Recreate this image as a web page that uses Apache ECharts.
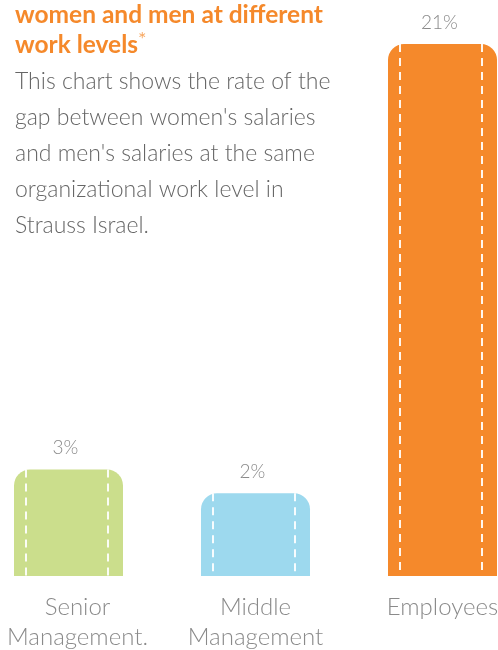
<!DOCTYPE html>
<html>
<head>
<meta charset="utf-8">
<script src="https://cdn.jsdelivr.net/npm/echarts@6/dist/echarts.min.js"></script>
<style>
  html, body { margin: 0; padding: 0; background: #fff; }
  #chart { width: 498px; height: 650px; }
</style>
</head>
<body>
<div id="chart"></div>
<script>
// data
const categories = ["Senior\nManagement.", "Middle\nManagement", "Employees"];
const gapValues = [3, 2, 21];
const barColors = ["#cbde8c", "#9dd9ee", "#f5892b"];

const titleLines = ["women and men at different", "work levels"];
const bodyLines = [
  "This chart shows the rate of the",
  "gap between women's salaries",
  "and men's salaries at the same",
  "organizational work level in",
  "Strauss Israel."
];

// bars in the original start below zero, so the axis runs from a negative floor
const Y_MIN = -1.5;
const Y_MAX = 21;

const chart = echarts.init(document.getElementById("chart"));

const option = {
  animation: false,
  title: {
    left: 15,
    top: 0,
    text: titleLines[0] + "\n" + titleLines[1] + "{star|*}",
    textStyle: {
      fontFamily: "Lato",
      fontWeight: "bold",
      fontSize: 24.5,
      lineHeight: 30,
      color: "#f5892b",
      rich: {
        star: { fontSize: 20, fontWeight: "normal", color: "#f8a862", verticalAlign: "top", lineHeight: 24 }
      }
    },
    subtext: bodyLines.join("\n"),
    subtextStyle: {
      fontFamily: "Lato",
      fontWeight: 300,
      fontSize: 23,
      lineHeight: 36,
      color: "#666666"
    },
    itemGap: 4,
    padding: 0
  },
  grid: {
    left: 68.5,
    right: 55.5,
    top: 44,
    bottom: 74,
    containLabel: false,
    outerBoundsMode: "none"
  },
  xAxis: {
    type: "category",
    data: categories,
    boundaryGap: false,
    axisLine: { show: false },
    axisTick: { show: false },
    axisLabel: {
      interval: 0,
      margin: 16,
      fontFamily: "Lato",
      fontWeight: 300,
      fontSize: 24,
      lineHeight: 30,
      color: "#8a8a8a",
      // the first label sits a little right of its bar in the original
      formatter: (val, idx) => (idx === 0 ? "{shift|" + val.split("\n").join("}\n{shift|") + "}" : val),
      rich: {
        shift: { padding: [0, 0, 0, 18], fontFamily: "Lato", fontWeight: 300, fontSize: 24, lineHeight: 30, color: "#8a8a8a" }
      }
    }
  },
  yAxis: {
    type: "value",
    min: Y_MIN,
    max: Y_MAX,
    show: false,
    splitLine: { show: false }
  },
  series: [
    {
      type: "custom",
      data: gapValues.map((v, i) => [i, v]),
      renderItem: function (params, api) {
        const top = api.coord([api.value(0), api.value(1)]);
        const base = api.coord([api.value(0), Y_MIN]);
        const w = 109;
        const x = top[0] - w / 2;
        const h = base[1] - top[1];
        const dash = { stroke: "rgba(255,255,255,0.92)", lineWidth: 2, lineDash: [8, 6] };
        return {
          type: "group",
          children: [
            {
              type: "rect",
              shape: { x: x, y: top[1], width: w, height: h, r: [16, 16, 0, 0] },
              style: { fill: barColors[params.dataIndex] }
            },
            {
              type: "line",
              shape: { x1: x + 12, y1: top[1], x2: x + 12, y2: base[1] },
              style: dash
            },
            {
              type: "line",
              shape: { x1: x + w - 15, y1: top[1], x2: x + w - 15, y2: base[1] },
              style: dash
            },
            {
              type: "text",
              style: {
                text: api.value(1) + "%",
                x: top[0] - 3,
                y: top[1] - 12,
                align: "center",
                verticalAlign: "bottom",
                fill: "#8a8a8a",
                fontFamily: "Lato",
                fontWeight: 300,
                fontSize: 19
              }
            }
          ]
        };
      }
    }
  ]
};

chart.setOption(option);
window.addEventListener("resize", () => chart.resize());
</script>
</body>
</html>
